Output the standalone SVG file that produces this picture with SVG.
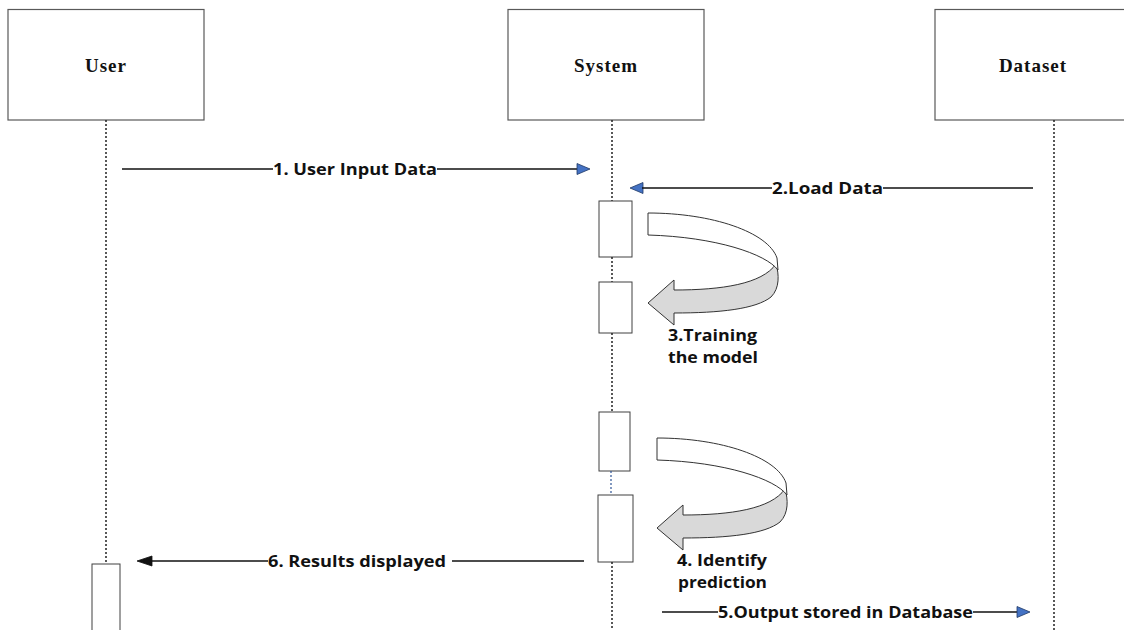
<svg xmlns="http://www.w3.org/2000/svg" xmlns:xlink="http://www.w3.org/1999/xlink" width="1124" height="630" viewBox="0 0 1124 630">
  <style>
    .box { fill: #ffffff; stroke: #595959; stroke-width: 1.2; }
    .act { fill: #ffffff; stroke: #404040; stroke-width: 1; }
    .title { font-family: "Liberation Serif", "Times New Roman", serif; font-weight: bold; font-size: 19px; letter-spacing: 1px; fill: #111; text-anchor: middle; }
    .lbl { font-family: "Open Sans", "Liberation Sans", sans-serif; font-weight: bold; font-size: 16.5px; fill: #111; }
    .lbl2 { font-family: "Open Sans", "Liberation Sans", sans-serif; font-weight: bold; font-size: 15.5px; fill: #111; }
    .life { stroke: #222; stroke-width: 1.5; stroke-dasharray: 2 2; fill: none; }
    .lifeblue { stroke: #2f5597; stroke-width: 1.2; stroke-dasharray: 2 2; fill: none; }
    .msg { stroke: #111; stroke-width: 1.3; fill: none; }
    .head { fill: #4472c4; stroke: #1f3864; stroke-width: 0.8; }
    .headblk { fill: #111; stroke: #111; stroke-width: 0.8; }
    .cfront { fill: #ffffff; stroke: #333; stroke-width: 1; }
    .cback { fill: #d9d9d9; stroke: #333; stroke-width: 1; }
  </style>
  <defs>
    <g id="curved">
      <path class="cback" d="M776,264 C779,274 780,288 771,297 C756,309 720,313 674,313 L674,325 L648,303 L674,280 L674,290 C722,290 762,284 776,264 Z"/>
      <path class="cfront" d="M648,213 C712,213 768,232 777,258 L778,270 C766,254 716,237 648,235 Z"/>
    </g>
  </defs>
  <rect width="1124" height="630" fill="#ffffff"/>

  <g id="node-user">
    <rect class="box" x="8" y="9.5" width="196" height="110.5"/>
    <text class="title" x="106" y="72">User</text>
    <line class="life" x1="106" y1="120" x2="106" y2="564"/>
    <rect class="act" x="92" y="564" width="28" height="70"/>
  </g>

  <g id="node-system">
    <rect class="box" x="508" y="9.5" width="196" height="110.5"/>
    <text class="title" x="606" y="72">System</text>
    <line class="life" x1="612" y1="120" x2="612" y2="201"/>
    <rect class="act" x="599" y="201" width="33" height="56"/>
    <line class="life" x1="612" y1="257" x2="612" y2="282"/>
    <rect class="act" x="599" y="282" width="33" height="51"/>
    <line class="life" x1="612" y1="333" x2="612" y2="412"/>
    <rect class="act" x="599" y="412" width="31" height="59"/>
    <line class="lifeblue" x1="611" y1="471" x2="611" y2="495"/>
    <rect class="act" x="598" y="495" width="35" height="67"/>
    <line class="life" x1="612" y1="562" x2="612" y2="630"/>
  </g>

  <g id="node-dataset">
    <rect class="box" x="935" y="9.5" width="196" height="110.5"/>
    <text class="title" x="1033" y="72">Dataset</text>
    <line class="life" x1="1054" y1="120" x2="1054" y2="630"/>
  </g>

  <g id="connectors">
    <!-- 1. User Input Data -->
    <line class="msg" x1="122" y1="169" x2="273" y2="169"/>
    <text class="lbl" x="273" y="175" textLength="164" lengthAdjust="spacingAndGlyphs">1. User Input Data</text>
    <line class="msg" x1="437" y1="169" x2="578" y2="169"/>
    <polygon class="head" points="577,163.5 590,169 577,174.5"/>

    <!-- 2.Load Data -->
    <polygon class="head" points="643,182.5 630,188 643,193.5"/>
    <line class="msg" x1="642" y1="188" x2="772" y2="188"/>
    <text class="lbl" x="772" y="194" textLength="111" lengthAdjust="spacingAndGlyphs">2.Load Data</text>
    <line class="msg" x1="883" y1="188" x2="1033" y2="188"/>

    <!-- 3. Training the model -->
    <use xlink:href="#curved"/>
    <text class="lbl" x="668" y="341" textLength="89" lengthAdjust="spacingAndGlyphs">3.Training</text>
    <text class="lbl" x="668" y="363" textLength="90" lengthAdjust="spacingAndGlyphs">the model</text>

    <!-- 4. Identify prediction -->
    <use xlink:href="#curved" transform="translate(9,225)"/>
    <text class="lbl2" x="677" y="566" textLength="90" lengthAdjust="spacingAndGlyphs">4. Identify</text>
    <text class="lbl2" x="678" y="588" textLength="89" lengthAdjust="spacingAndGlyphs">prediction</text>

    <!-- 5.Output stored in Database -->
    <line class="msg" x1="662" y1="612" x2="718" y2="612"/>
    <text class="lbl" x="718" y="618" textLength="255" lengthAdjust="spacingAndGlyphs">5.Output stored in Database</text>
    <line class="msg" x1="973" y1="612" x2="1018" y2="612"/>
    <polygon class="head" points="1017,606.5 1030,612 1017,617.5"/>

    <!-- 6. Results displayed -->
    <polygon class="headblk" points="152,556 137,561 152,566"/>
    <line class="msg" x1="150" y1="561" x2="268" y2="561"/>
    <text class="lbl" x="268" y="567" textLength="178" lengthAdjust="spacingAndGlyphs">6. Results displayed</text>
    <line class="msg" x1="452" y1="561" x2="584" y2="561"/>
  </g>
</svg>
